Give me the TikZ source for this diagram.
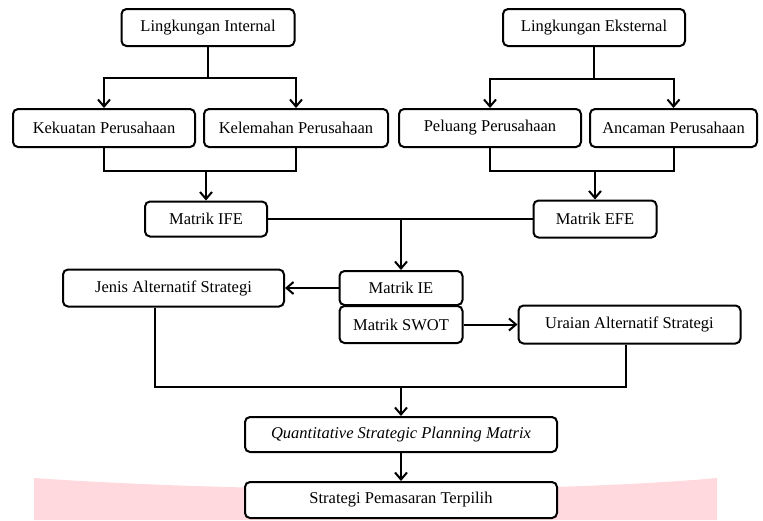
\documentclass[tikz,border=0pt]{standalone}
\usepackage{fontspec}
\setmainfont{Liberation Serif}
\usetikzlibrary{arrows.meta,positioning}
\definecolor{pita}{RGB}{255,217,221}

\begin{document}
\begin{tikzpicture}[
			x = 1pt, y = -1pt, % pixel units, y pointing down
			> = {Straight Barb[length=7pt,width=12pt]}, % arrow head style
			line width = 2pt, % line style
			font = \fontsize{16.5}{19}\selectfont
			]
			
			\tikzstyle{box}=[
			draw = black,
			fill = white,
			rounded corners = 5pt,
			inner sep = 0pt,
			minimum height = 37pt
			]
			
			\useasboundingbox (0,0) rectangle (763,520);
			
			% pink band behind the last box
			\fill[pita] (34,478) .. controls (250,493) and (550,493) .. (717,478)
				-- (717,520) -- (34,520) -- cycle;
			
			\node[box, minimum width=173pt] (internal) at (208,27.5) {Lingkungan Internal};
			\node[box, minimum width=182pt] (eksternal) at (594,27.5) {Lingkungan Eksternal};
			
			\node[box, minimum width=182pt, minimum height=38pt] (kekuatan) at (104,128) {Kekuatan Perusahaan};
			\node[box, minimum width=184pt, minimum height=38pt] (kelemahan) [right=7pt of kekuatan] {Kelemahan Perusahaan};
			\node[box, minimum width=182pt, minimum height=38pt] (peluang) [right=9pt of kelemahan] {Peluang Perusahaan};
			\node[box, minimum width=167pt, minimum height=38pt] (ancaman) [right=7pt of peluang] {Ancaman Perusahaan};
			
			\node[box, minimum width=122pt, minimum height=35pt] (ife) at (206,219) {Matrik IFE};
			\node[box, minimum width=123pt] (efe) at (595,219) {Matrik EFE};
			
			\node[box, minimum width=123pt, minimum height=34pt] (ie) at (401,288) {Matrik IE};
			\node[box, minimum width=123pt] (swot) [below=-1pt of ie] {Matrik SWOT};
			\node[box, minimum width=221pt] (jenis) at (173.5,288) {Jenis Alternatif Strategi};
			\node[box, minimum width=222pt, minimum height=38pt] (uraian) [right=54pt of swot] {Uraian Alternatif Strategi};
			
			\node[box, minimum width=312pt, minimum height=35pt] (qspm) at (401,434.5) {\itshape Quantitative Strategic Planning Matrix};
			\node[box, minimum width=312pt, minimum height=36pt] (terpilih) at (401,500) {Strategi Pemasaran Terpilih};
			
			% junctions
			\coordinate (splitint) at (208,78);
			\coordinate (spliteks) at (594,79);
			\coordinate (mergeint) at (206,171);
			\coordinate (mergeeks) at (595,171);
			\coordinate (mergeall) at (401,387);
			
			\draw (internal) -- (splitint);
			\draw[->] (splitint) -| (kekuatan.north);
			\draw[->] (splitint) -| (kelemahan.north);
			\draw (eksternal) -- (spliteks);
			\draw[->] (spliteks) -| (peluang.north);
			\draw[->] (spliteks) -| (ancaman.north);
			
			\draw (kekuatan.south) |- (mergeint) -| (kelemahan.south);
			\draw[->] (mergeint) -- (ife);
			\draw (peluang.south) |- (mergeeks) -| (ancaman.south);
			\draw[->] (mergeeks) -- (efe);
			
			\draw (ife) -- (efe);
			\draw[->] (ie |- ife) -- (ie);
			\draw[->] (ie) -- (jenis);
			\draw[->] (swot) -- (uraian);
			
			\draw ([xshift=-19pt]jenis.south) |- (mergeall) -| ([xshift=-4pt]uraian.south);
			\draw[->] (mergeall) -- (qspm);
			\draw[->] (qspm) -- (terpilih);
		\end{tikzpicture}
\end{document}
